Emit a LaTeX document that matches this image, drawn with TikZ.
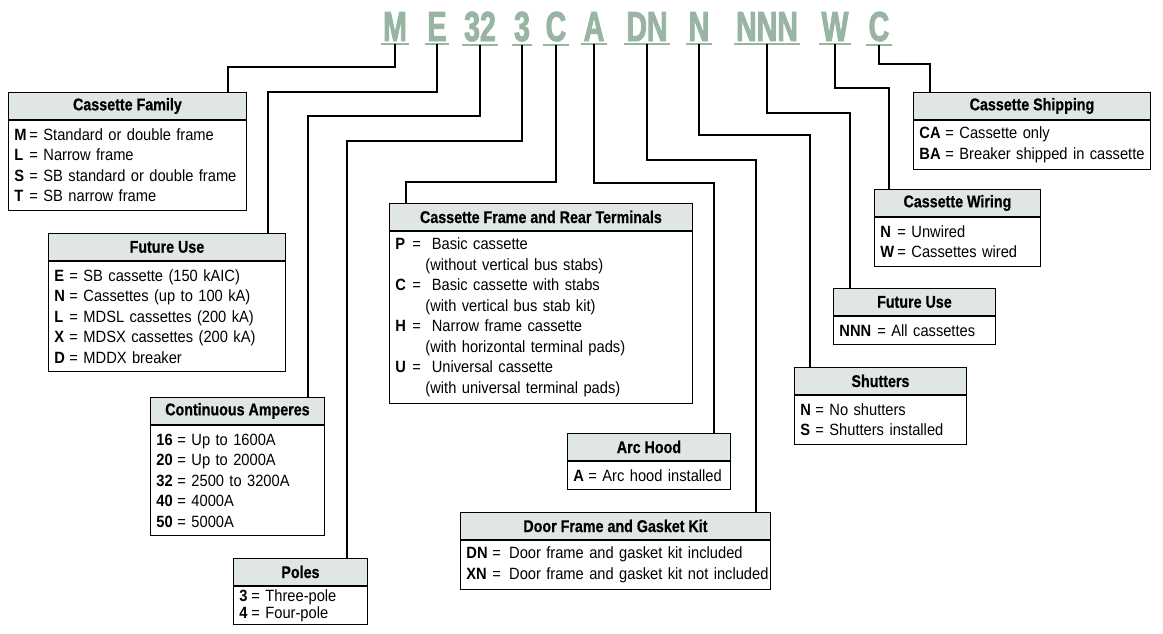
\documentclass[tikz,border=0pt]{standalone}
\usepackage{fontspec}
\setmainfont{Liberation Sans}[FakeStretch=0.9]
\newfontfamily\hdfont{Liberation Sans}[FakeStretch=0.84,BoldFeatures={FakeBold=0.6}]
\newfontfamily\codefont{Liberation Sans}[FakeStretch=0.68,BoldFeatures={FakeBold=2}]
\usetikzlibrary{positioning}
\definecolor{codegreen}{RGB}{152,180,163}
\definecolor{hdrfill}{RGB}{224,231,226}
\newcommand{\opt}[3]{\mbox{\makebox[#1][l]{\bfseries #2}= #3}}

\begin{document}
\begin{tikzpicture}[x=1pt,y=-1pt,
    wire/.style={line width=2pt},
    uline/.style={draw=codegreen,line width=2.2pt},
    code/.style={font=\codefont\bfseries\fontsize{42}{42}\selectfont,text=codegreen,inner xsep=2pt,inner ysep=0pt,anchor=base},
    hd/.style={draw,line width=0.9pt,fill=hdrfill,anchor=north west,minimum height=27pt,inner sep=0pt,font=\hdfont\bfseries\fontsize{17}{17}\selectfont},
    bd/.style={draw,line width=0.9pt,anchor=north west,inner xsep=6pt,inner ysep=0pt,align=left,font=\fontsize{16.3}{20.5}\selectfont}]
    \useasboundingbox (0,0) rectangle (1163,633);

    \node[code] (tM) at (395,41) {M};
    \node[code] (tE) at (437,41) {E};
    \node[code] (t32) at (480,41) {32};
    \node[code] (t3) at (522,41) {3};
    \node[code] (tC) at (556,41) {C};
    \node[code] (tA) at (594,41) {A};
    \node[code] (tDN) at (647,41) {DN};
    \node[code] (tN) at (699,41) {N};
    \node[code] (tNNN) at (767,41) {NNN};
    \node[code] (tW) at (835,41) {W};
    \node[code] (tCA) at (879,41) {C};
    \foreach \t in {tM,tE,t32,t3,tC,tA,tDN,tN,tNNN,tW,tCA}
        \draw[uline] ([yshift=-3pt]\t.south west) -- ([yshift=-3pt]\t.south east);

    \node[hd,minimum width=238pt] (famH) at (8,92) {Cassette Family};
    \node[bd,text width=226pt,minimum height=90pt] (famB) at (famH.south west)
        {\opt{15pt}{M}{Standard or double frame}\\
         \opt{15pt}{L}{Narrow frame}\\
         \opt{15pt}{S}{SB standard or double frame}\\
         \opt{15pt}{T}{SB narrow frame}};

    \node[hd,minimum width=237pt] (fuH) at (48,233) {Future Use};
    \node[bd,text width=225pt,minimum height=110.5pt] (fuB) at (fuH.south west)
        {\opt{15pt}{E}{SB cassette (150 kAIC)}\\
         \opt{15pt}{N}{Cassettes (up to 100 kA)}\\
         \opt{15pt}{L}{MDSL cassettes (200 kA)}\\
         \opt{15pt}{X}{MDSX cassettes (200 kA)}\\
         \opt{15pt}{D}{MDDX breaker}};

    \node[hd,minimum width=174pt] (ampH) at (150,397) {Continuous Amperes};
    \node[bd,text width=162pt,minimum height=110.5pt] (ampB) at (ampH.south west)
        {\opt{21pt}{16}{Up to 1600A}\\
         \opt{21pt}{20}{Up to 2000A}\\
         \opt{21pt}{32}{2500 to 3200A}\\
         \opt{21pt}{40}{4000A}\\
         \opt{21pt}{50}{5000A}};

    \node[hd,minimum width=134pt] (polH) at (233,558) {Poles};
    \node[bd,text width=122pt,minimum height=38pt,font=\fontsize{16.3}{17}\selectfont] (polB) at (polH.south west)
        {\opt{12pt}{3}{Three-pole}\\
         \opt{12pt}{4}{Four-pole}};

    \node[hd,minimum width=303pt] (frmH) at (389,203) {Cassette Frame and Rear Terminals};
    \node[bd,text width=291pt,minimum height=172pt] (frmB) at (frmH.south west)
        {\opt{17pt}{P}{\ Basic cassette}\\
         \hspace*{30pt}(without vertical bus stabs)\\
         \opt{17pt}{C}{\ Basic cassette with stabs}\\
         \hspace*{30pt}(with vertical bus stab kit)\\
         \opt{17pt}{H}{\ Narrow frame cassette}\\
         \hspace*{30pt}(with horizontal terminal pads)\\
         \opt{17pt}{U}{\ Universal cassette}\\
         \hspace*{30pt}(with universal terminal pads)};

    \node[hd,minimum width=163pt] (arcH) at (567,433) {Arc Hood};
    \node[bd,text width=151pt,minimum height=28.5pt] (arcB) at (arcH.south west)
        {\opt{15pt}{A}{Arc hood installed}};

    \node[hd,minimum width=310pt] (dorH) at (460,512) {Door Frame and Gasket Kit};
    \node[bd,text width=298pt,minimum height=49pt] (dorB) at (dorH.south west)
        {\opt{26pt}{DN}{\,Door frame and gasket kit included}\\
         \opt{26pt}{XN}{\,Door frame and gasket kit not included}};

    \node[hd,minimum width=172pt] (shtH) at (794,367) {Shutters};
    \node[bd,text width=160pt,minimum height=49pt] (shtB) at (shtH.south west)
        {\opt{15pt}{N}{No shutters}\\
         \opt{15pt}{S}{Shutters installed}};

    \node[hd,minimum width=162pt] (fu2H) at (833,288) {Future Use};
    \node[bd,text width=150pt,minimum height=28.5pt] (fu2B) at (fu2H.south west)
        {\opt{38pt}{NNN}{All cassettes}};

    \node[hd,minimum width=166pt] (wirH) at (874,189) {Cassette Wiring};
    \node[bd,text width=154pt,minimum height=49pt] (wirB) at (wirH.south west)
        {\opt{17pt}{N}{Unwired}\\
         \opt{17pt}{W}{Cassettes wired}};

    \node[hd,minimum width=237pt] (shpH) at (913,92) {Cassette Shipping};
    \node[bd,text width=225pt,minimum height=49pt] (shpB) at (shpH.south west)
        {\opt{26pt}{CA}{Cassette only}\\
         \opt{26pt}{BA}{Breaker shipped in cassette}};

    \coordinate (bM) at (228,67);
    \coordinate (bE) at (268,92);
    \coordinate (b32) at (308,116);
    \coordinate (b3) at (347,141);
    \coordinate (bC) at (406,182);
    \coordinate (bA) at (714,183);
    \coordinate (bDN) at (756,160);
    \coordinate (bN) at (810,135);
    \coordinate (bNNN) at (850,113);
    \coordinate (bW) at (889,88);
    \coordinate (bCA) at (930,64);

    \draw[wire] ([yshift=-3pt]tM.south) |- (bM) -- (bM |- famH.north);
    \draw[wire] ([yshift=-3pt]tE.south) |- (bE) -- (bE |- fuH.north);
    \draw[wire] ([yshift=-3pt]t32.south) |- (b32) -- (b32 |- ampH.north);
    \draw[wire] ([yshift=-3pt]t3.south) |- (b3) -- (b3 |- polH.north);
    \draw[wire] ([yshift=-3pt]tC.south) |- (bC) -- (bC |- frmH.north);
    \draw[wire] ([yshift=-3pt]tA.south) |- (bA) -- (bA |- arcH.north);
    \draw[wire] ([yshift=-3pt]tDN.south) |- (bDN) -- (bDN |- dorH.north);
    \draw[wire] ([yshift=-3pt]tN.south) |- (bN) -- (bN |- shtH.north);
    \draw[wire] ([yshift=-3pt]tNNN.south) |- (bNNN) -- (bNNN |- fu2H.north);
    \draw[wire] ([yshift=-3pt]tW.south) |- (bW) -- (bW |- wirH.north);
    \draw[wire] ([yshift=-3pt]tCA.south) |- (bCA) -- (bCA |- shpH.north);
\end{tikzpicture}
\end{document}
